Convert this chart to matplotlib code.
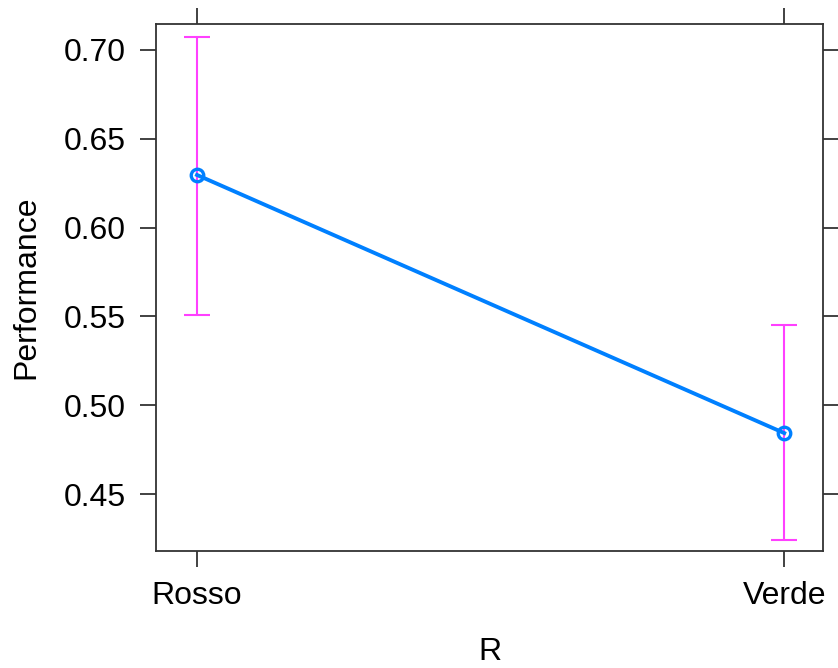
import matplotlib
matplotlib.use('Agg')
import matplotlib.pyplot as plt

# effect estimates per level of R
levels = ['Rosso', 'Verde']
fit = [0.6296, 0.4843]
lower = [0.5508, 0.4241]
upper = [0.7073, 0.5452]

plt.rcParams['font.family'] = ['Liberation Sans', 'DejaVu Sans']

fig = plt.figure(figsize=(8.38, 6.68), dpi=100)
ax = fig.add_axes([0.1862, 0.1751, 0.7959, 0.7890])

x = list(range(len(levels)))
yerr = [[f - l for f, l in zip(fit, lower)], [u - f for f, u in zip(fit, upper)]]
ax.errorbar(x, fit, yerr=yerr, fmt='none', ecolor='#FF40FF', elinewidth=1.5,
            capsize=9.7, capthick=1.5, zorder=2)
ax.plot(x, fit, color='#0080FF', lw=2.8, marker='o', ms=9,
        mfc='none', mec='#0080FF', mew=2.4, zorder=3)

ax.set_xlim(-0.0698, 1.066)
ax.set_ylim(0.4179, 0.7146)
ax.set_xticks(x)
ax.set_xticklabels(levels)
ax.set_yticks([0.45, 0.50, 0.55, 0.60, 0.65, 0.70])
ax.set_yticklabels(['0.45', '0.50', '0.55', '0.60', '0.65', '0.70'])

for s in ax.spines.values():
    s.set_color('#333333')
    s.set_linewidth(1.3)
ax.tick_params(direction='out', length=11.5, width=1.3, color='#333333',
               labelsize=23, pad=10, top=True, right=True,
               labeltop=False, labelright=False)

ax.set_xlabel('R', fontsize=23, labelpad=19)
ax.set_ylabel('Performance', fontsize=23, labelpad=16)

fig.savefig('out.png', dpi=100)
